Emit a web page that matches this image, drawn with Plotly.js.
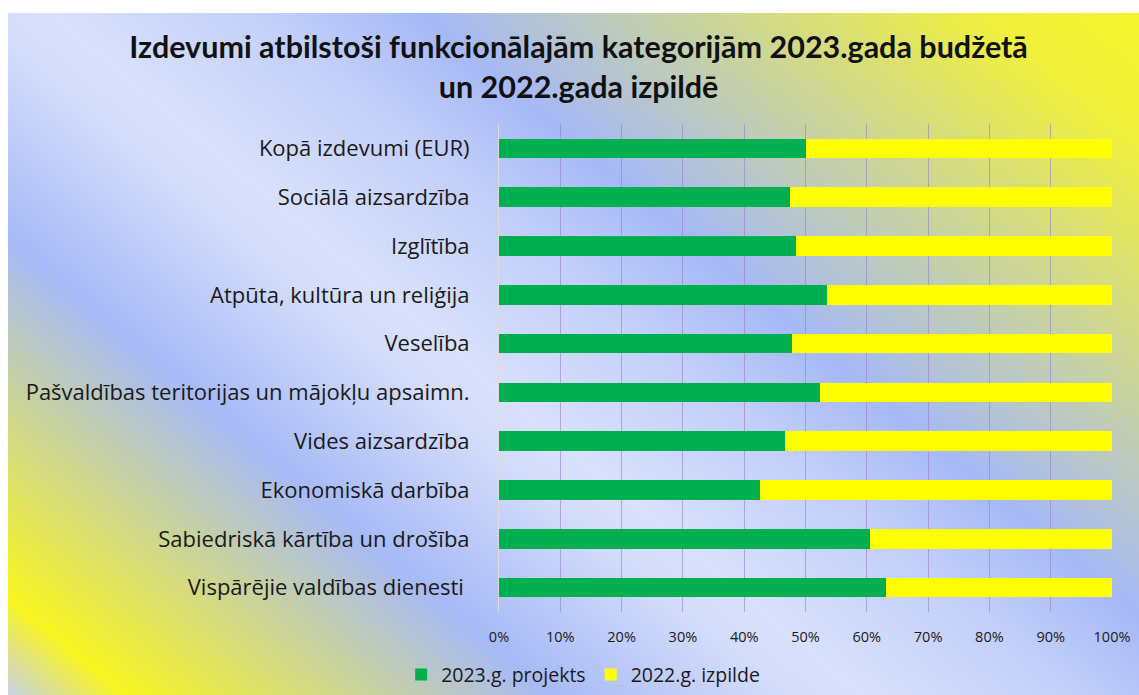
<!DOCTYPE html>
<html>
<head>
<meta charset="utf-8">
<script src="https://cdn.plot.ly/plotly-3.0.1.min.js"></script>
<style>
  html, body { margin: 0; padding: 0; background: #ffffff; width: 1139px; height: 695px; overflow: hidden; }
  #bg { position: absolute; left: 8px; top: 13px; width: 1131px; height: 682px;
        background: linear-gradient(220deg, #f5f52c 0%, #f0f03c 8%, #a6b9f7 37%, #c2cff9 45%, #d8e0fb 56%, #d3dcfa 60%, #a7baf7 72%, #f8f520 94%, #c6d2e6 100%); }
  #chart { position: absolute; left: 0; top: 0; width: 1139px; height: 695px; }
</style>
</head>
<body>
<div id="bg"></div>
<div id="chart"></div>
<script>
const categories = [
  "Kopā izdevumi (EUR)",
  "Sociālā aizsardzība",
  "Izglītība",
  "Atpūta, kultūra un reliģija",
  "Veselība",
  "Pašvaldības teritorijas un mājokļu apsaimn.",
  "Vides aizsardzība",
  "Ekonomiskā darbība",
  "Sabiedriskā kārtība un drošība",
  "Vispārējie valdības dienesti "
];
const projekts2023 = [50.0, 47.5, 48.4, 53.5, 47.8, 52.4, 46.6, 42.5, 60.5, 63.2];
const izpilde2022  = [50.0, 52.5, 51.6, 46.5, 52.2, 47.6, 53.4, 57.5, 39.5, 36.8];
const xTickValues = [0, 10, 20, 30, 40, 50, 60, 70, 80, 90, 100];
const xTickLabels = ["0%", "10%", "20%", "30%", "40%", "50%", "60%", "70%", "80%", "90%", "100%"];

const LABEL_FONT = "'Open Sans', Lato, sans-serif";
const TITLE_FONT = "Lato, 'Open Sans', sans-serif";

const traces = [
  { type: "bar", orientation: "h", name: "2023.g. projekts",
    y: categories, x: projekts2023, marker: { color: "#00b050" } },
  { type: "bar", orientation: "h", name: "2022.g. izpilde",
    y: categories, x: izpilde2022, marker: { color: "#ffff00" } }
];

const layout = {
  width: 1139, height: 695,
  paper_bgcolor: "rgba(0,0,0,0)", plot_bgcolor: "rgba(0,0,0,0)",
  margin: { l: 499, r: 27, t: 124, b: 83, pad: 0 },
  barmode: "stack", barnorm: "percent", bargap: 0.6,
  font: { family: LABEL_FONT, color: "#1a1a1a" },
  title: {
    text: "<b>Izdevumi atbilstoši funkcionālajām kategorijām 2023.gada budžetā<br>un 2022.gada izpildē</b>",
    font: { family: TITLE_FONT, size: 30.5, color: "#111111" },
    x: 0.508, xanchor: "center", xref: "container",
    y: 0.916, yanchor: "middle", yref: "container"
  },
  xaxis: {
    range: [0, 100], tickvals: xTickValues, ticktext: xTickLabels,
    showgrid: true, gridcolor: "rgba(150,130,200,0.6)", gridwidth: 1,
    zeroline: false, showline: false, ticks: "",
    tickfont: { family: LABEL_FONT, size: 14.5, color: "#1a1a1a" },
    ticklabelstandoff: 14, fixedrange: true
  },
  yaxis: {
    type: "category", autorange: "reversed",
    showgrid: false, zeroline: false,
    showline: true, linecolor: "#dcdcdc", linewidth: 1, ticks: "",
    tickfont: { family: LABEL_FONT, size: 22, color: "#1a1a1a" },
    ticklabelstandoff: 24, fixedrange: true
  },
  showlegend: true,
  legend: {
    orientation: "h", x: 0.512, xanchor: "center", xref: "container",
    y: 0.029, yanchor: "middle", yref: "container",
    font: { family: LABEL_FONT, size: 19.5, color: "#1a1a1a" },
    bgcolor: "rgba(0,0,0,0)", traceorder: "normal", itemwidth: 30
  }
};

Plotly.newPlot("chart", traces, layout, { staticPlot: true, displayModeBar: false });
</script>
</body>
</html>
